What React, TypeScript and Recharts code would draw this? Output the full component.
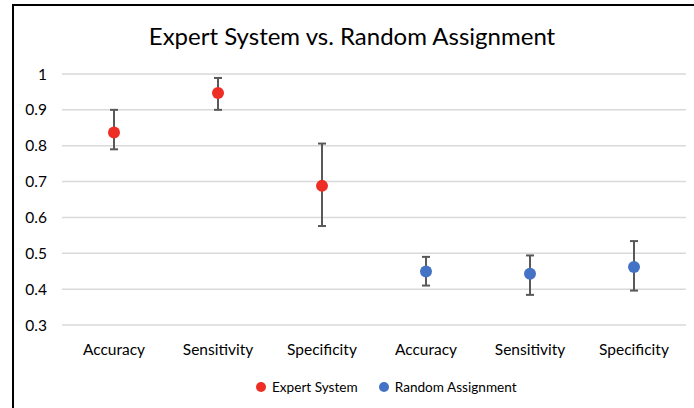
import React from 'react';
import { ComposedChart, Line, XAxis, YAxis, CartesianGrid, ErrorBar } from 'recharts';

const categories = ['Accuracy', 'Sensitivity', 'Specificity', 'Accuracy', 'Sensitivity', 'Specificity'];
const expertValues = [0.837, 0.947, 0.688, null, null, null];
const expertLow = [0.790, 0.900, 0.576, null, null, null];
const expertHigh = [0.900, 0.989, 0.806, null, null, null];
const randomValues = [null, null, null, 0.449, 0.443, 0.462];
const randomLow = [null, null, null, 0.410, 0.384, 0.396];
const randomHigh = [null, null, null, 0.490, 0.494, 0.534];
const yTicks = [0.3, 0.4, 0.5, 0.6, 0.7, 0.8, 0.9, 1];
const seriesNames = ['Expert System', 'Random Assignment'];
const seriesColors = ['#EE2E24', '#4472C4'];
const title = 'Expert System vs. Random Assignment';

const data = categories.map((c, i) => ({
  id: 'c' + i,
  label: c,
  expert: expertValues[i],
  expertErr: expertValues[i] == null ? undefined : [expertValues[i]! - expertLow[i]!, expertHigh[i]! - expertValues[i]!],
  random: randomValues[i],
  randomErr: randomValues[i] == null ? undefined : [randomValues[i]! - randomLow[i]!, randomHigh[i]! - randomValues[i]!],
}));

const FONT = 'Lato, "Open Sans", sans-serif';

export default function App() {
  return (
    <div style={{ position: 'fixed', left: 0, top: 0, width: 694, height: 408, background: '#fff', overflow: 'hidden', fontFamily: FONT }}>
      <div style={{ position: 'absolute', left: 12, top: 4, width: 700, height: 420, borderTop: '2px solid #000', borderLeft: '2px solid #000', boxSizing: 'border-box' }} />
      <div style={{ position: 'absolute', left: 0, width: 704, top: 21, textAlign: 'center', fontSize: 24, color: '#000', lineHeight: '30px' }}>{title}</div>
      <div style={{ position: 'absolute' }}>
        <ComposedChart width={694} height={408} data={data} margin={{ top: 74, right: 8, bottom: 53, left: 0 }}>
          <CartesianGrid vertical={false} stroke="#D9D9D9" strokeWidth={1.5} />
          <XAxis dataKey="id" scale="band" axisLine={false} tickLine={false} tickSize={0} tickMargin={19} height={30}
            tickFormatter={(v: string, i: number) => categories[i]} interval={0}
            tick={{ fill: '#000', fontSize: 15.5, fontFamily: FONT }} />
          <YAxis domain={[0.3, 1]} ticks={yTicks} axisLine={false} tickLine={false} tickSize={0} tickMargin={15} width={62}
            tick={{ fill: '#000', fontSize: 15.5, fontFamily: FONT }} />
          <Line dataKey="expert" stroke="none" isAnimationActive={false} activeDot={false}
            dot={{ r: 6, fill: seriesColors[0], stroke: 'none' }}>
            <ErrorBar dataKey="expertErr" width={4} stroke="#595959" strokeWidth={2} direction="y" />
          </Line>
          <Line dataKey="random" stroke="none" isAnimationActive={false} activeDot={false}
            dot={{ r: 6, fill: seriesColors[1], stroke: 'none' }}>
            <ErrorBar dataKey="randomErr" width={4} stroke="#595959" strokeWidth={2} direction="y" />
          </Line>
        </ComposedChart>
      </div>
      <div style={{ position: 'absolute', left: 256, top: 377, height: 20, display: 'flex', alignItems: 'center', gap: 21, fontSize: 13.6, color: '#000' }}>
        {seriesNames.map((n, i) => (
          <div key={n} style={{ display: 'flex', alignItems: 'center' }}>
            <span style={{ display: 'inline-block', width: 10, height: 10, borderRadius: '50%', background: seriesColors[i], marginRight: 6 }} />
            <span>{n}</span>
          </div>
        ))}
      </div>
    </div>
  );
}
